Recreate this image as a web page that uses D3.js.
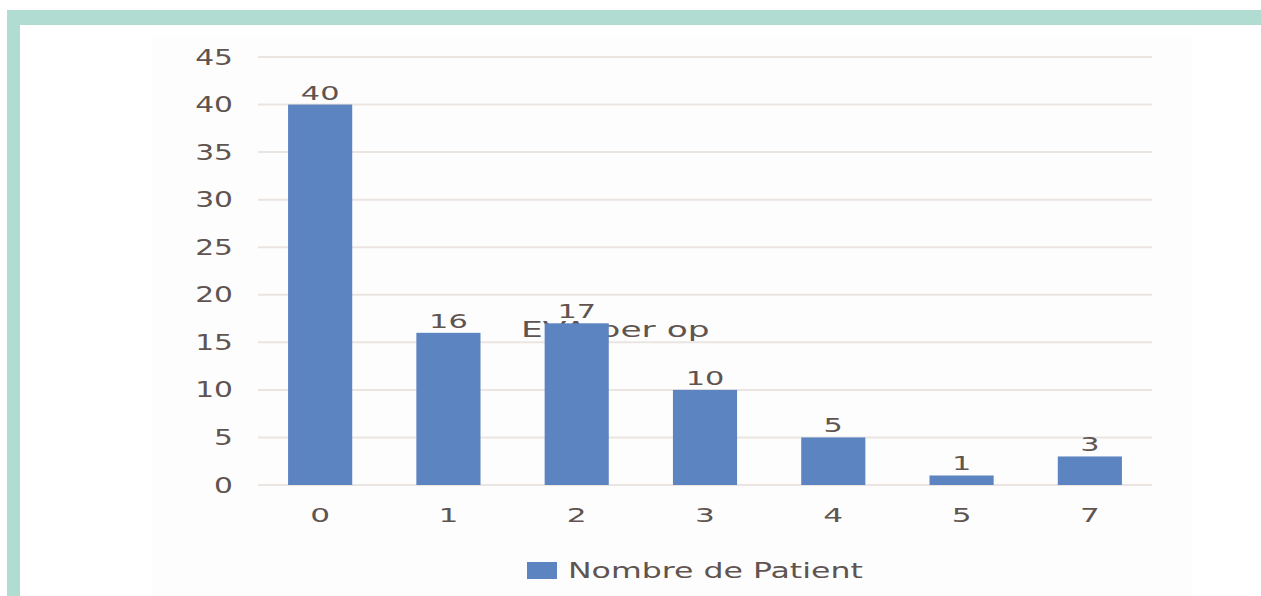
<!DOCTYPE html>
<html>
<head>
<meta charset="utf-8">
<script src="https://cdn.jsdelivr.net/npm/d3@7"></script>
<style>
  body { margin: 0; background: #fff; }
  text { font-family: "DejaVu Sans", sans-serif; fill: #5f5450; }
</style>
</head>
<body>
<div id="chart"></div>
<script>
// data
const categories = ["0", "1", "2", "3", "4", "5", "7"];
const patients = [40, 16, 17, 10, 5, 1, 3];
const yTicks = [0, 5, 10, 15, 20, 25, 30, 35, 40, 45];
const seriesName = "Nombre de Patient";
const title = "EVA per op";

const W = 1261, H = 596;
const stretch = 1.5; // the source glyphs are wide, stretch them sideways

const svg = d3.select("#chart").append("svg")
    .attr("width", W)
    .attr("height", H);

// put a stretched label at (px, py)
function label(g, px, py, str, size, anchor, sx) {
    return g.append("text")
        .attr("transform", "translate(" + px + "," + py + ") scale(" + (sx || stretch) + ",1)")
        .attr("text-anchor", anchor || "start")
        .attr("font-size", size)
        .text(str);
}

// teal frame, top and left
svg.append("rect").attr("x", 7).attr("y", 10).attr("width", W - 7).attr("height", 15).attr("fill", "#b0dcd1");
svg.append("rect").attr("x", 7).attr("y", 10).attr("width", 13).attr("height", H - 10).attr("fill", "#b0dcd1");

// faint chart panel
svg.append("rect").attr("x", 152).attr("y", 36).attr("width", 1040).attr("height", H - 36).attr("fill", "#fdfdfd");

const x = d3.scaleBand().domain(categories).range([256, 1154]).paddingInner(0.5).paddingOuter(0.25);
const y = d3.scaleLinear().domain([0, 45]).range([485, 57]);

// gridlines
svg.append("g").selectAll("line")
    .data(yTicks)
    .enter().append("line")
    .attr("x1", 258).attr("x2", 1152)
    .attr("y1", d => y(d)).attr("y2", d => y(d))
    .attr("stroke", "#ebe5e1")
    .attr("stroke-width", 2);

// title, sits behind the bars
label(svg, 521, 337, title, 20.5, "start", 1.68);

// bars
svg.append("g").selectAll("rect")
    .data(patients)
    .enter().append("rect")
    .attr("x", (d, i) => x(categories[i]))
    .attr("y", d => y(d))
    .attr("width", x.bandwidth())
    .attr("height", d => y(0) - y(d))
    .attr("fill", "#5b84c1");

// value labels
const gv = svg.append("g");
patients.forEach((d, i) => {
    label(gv, x(categories[i]) + x.bandwidth() / 2, y(d) - 5, d, 19, "middle", 1.6);
});

// y axis labels
const gy = svg.append("g");
yTicks.forEach(t => {
    label(gy, 233, y(t) + 7.5, t, 20.5, "end", 1.45);
});

// x axis labels
const gx = svg.append("g");
categories.forEach(c => {
    label(gx, x(c) + x.bandwidth() / 2, 522, c, 19.5, "middle", 1.6);
});

// legend
svg.append("rect").attr("x", 527).attr("y", 562).attr("width", 30).attr("height", 17).attr("fill", "#5b84c1");
label(svg, 568, 578, seriesName, 20.5, "start", 1.54);
</script>
</body>
</html>
